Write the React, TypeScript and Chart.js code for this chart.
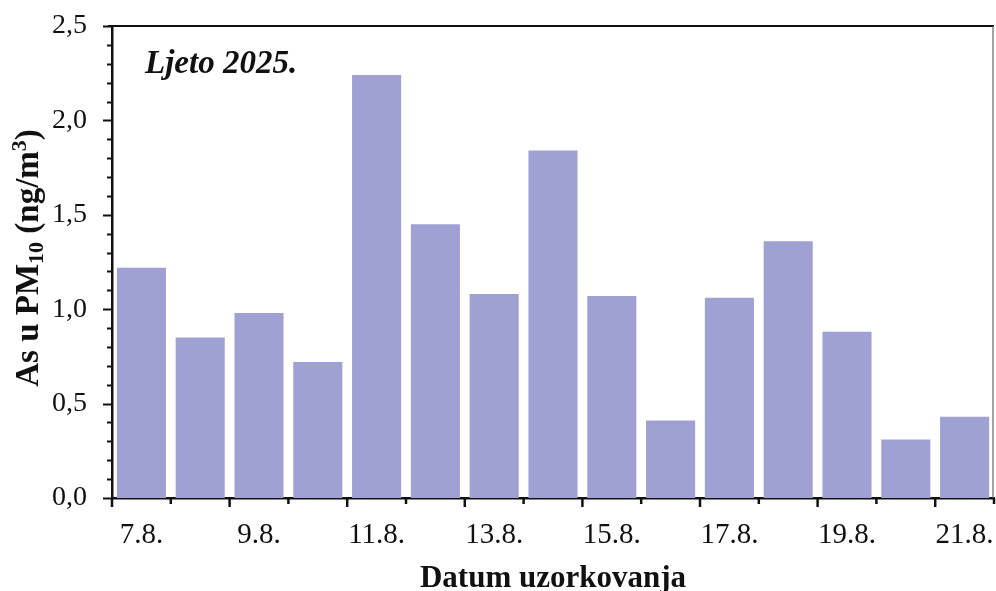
import React, { useEffect, useRef } from "react";
import { Chart, registerables } from "chart.js";

Chart.register(...registerables);

// ---- data ----
const categories = [
  "7.8.", "8.8.", "9.8.", "10.8.", "11.8.", "12.8.", "13.8.", "14.8.",
  "15.8.", "16.8.", "17.8.", "18.8.", "19.8.", "20.8.", "21.8.",
];
const asValues = [1.22, 0.85, 0.98, 0.72, 2.24, 1.45, 1.08, 1.84, 1.07, 0.41, 1.06, 1.36, 0.88, 0.31, 0.43];
const yMin = 0;
const yMax = 2.5;
const yStep = 0.5;
const yMinorStep = 0.1;
const seasonLabel = "Ljeto 2025.";
const xTitle = "Datum uzorkovanja";
const yTitleParts = [
  { text: "As u PM", kind: "normal" },
  { text: "10", kind: "sub" },
  { text: " (ng/m", kind: "normal" },
  { text: "3", kind: "sup" },
  { text: ")", kind: "normal" },
];

const FONT = "'Liberation Serif', 'Times New Roman', serif";

const decorPlugin = {
  id: "decor",
  afterDraw(chart: any) {
    const { ctx, chartArea, scales } = chart;
    const { left, right, top, bottom } = chartArea;
    const x = scales.x;
    const y = scales.y;
    ctx.save();
    ctx.strokeStyle = "#111";
    ctx.lineCap = "butt";

    // y ticks (major + minor), outward
    const nMinor = Math.round((yMax - yMin) / yMinorStep);
    for (let i = 0; i <= nMinor; i++) {
      const v = yMin + i * yMinorStep;
      const py = Math.round(y.getPixelForValue(v)) + 0.5;
      const major = i % Math.round(yStep / yMinorStep) === 0;
      ctx.lineWidth = 2;
      ctx.beginPath();
      ctx.moveTo(left - (major ? 9 : 5), py);
      ctx.lineTo(left, py);
      ctx.stroke();
    }

    // x ticks at category boundaries, alternating length
    const w = x.getPixelForValue(1) - x.getPixelForValue(0);
    for (let i = 0; i <= categories.length; i++) {
      const px = x.getPixelForValue(0) - w / 2 + i * w;
      const major = i % 2 === 0;
      ctx.lineWidth = 2.5;
      ctx.beginPath();
      ctx.moveTo(px, bottom);
      ctx.lineTo(px, bottom + (major ? 9 : 6));
      ctx.stroke();
    }

    // frame: top and right
    ctx.lineWidth = 2;
    ctx.strokeStyle = "#111";
    ctx.beginPath();
    ctx.moveTo(left - 4, top);
    ctx.lineTo(right, top);
    ctx.stroke();
    ctx.lineWidth = 1.2;
    ctx.strokeStyle = "#666";
    ctx.beginPath();
    ctx.moveTo(right - 1, top);
    ctx.lineTo(right - 1, bottom);
    ctx.stroke();

    // season label
    ctx.fillStyle = "#111";
    ctx.font = `italic bold 33px ${FONT}`;
    ctx.textBaseline = "alphabetic";
    ctx.textAlign = "left";
    ctx.fillText(seasonLabel, 145, 73);

    // y title with sub/superscripts
    const mainSize = 33;
    const smallSize = 22;
    const fontFor = (k: string) => `bold ${k === "normal" ? mainSize : smallSize}px ${FONT}`;
    let total = 0;
    const widths: number[] = [];
    for (const p of yTitleParts) {
      ctx.font = fontFor(p.kind);
      const m = ctx.measureText(p.text).width;
      widths.push(m);
      total += m;
    }
    const cy = (top + bottom) / 2 - 4;
    ctx.translate(38, cy);
    ctx.rotate(-Math.PI / 2);
    let u = -total / 2;
    yTitleParts.forEach((p, i) => {
      ctx.font = fontFor(p.kind);
      const dv = p.kind === "sub" ? 5 : p.kind === "sup" ? -12 : 0;
      ctx.fillText(p.text, u, dv);
      u += widths[i];
    });
    ctx.restore();
  },
};

export default function App() {
  const ref = useRef<HTMLCanvasElement | null>(null);

  useEffect(() => {
    document.body.style.margin = "0";
    const canvas = ref.current;
    if (!canvas) return;
    const chart = new Chart(canvas, {
      type: "bar",
      data: {
        labels: categories,
        datasets: [
          {
            data: asValues,
            backgroundColor: "#a0a1d3",
            borderWidth: 0,
            barPercentage: 0.835,
            categoryPercentage: 1.0,
          },
        ],
      },
      options: {
        responsive: false,
        animation: false,
        devicePixelRatio: 1,
        layout: { padding: { left: 0, right: 2, top: 26, bottom: 0 } },
        plugins: {
          legend: { display: false },
          tooltip: { enabled: false },
          title: { display: false },
        },
        scales: {
          x: {
            type: "category",
            offset: true,
            grid: { display: false },
            border: { display: true, color: "#111", width: 2.5 },
            ticks: {
              autoSkip: false,
              maxRotation: 0,
              minRotation: 0,
              padding: 12,
              color: "#111",
              font: { family: FONT, size: 29 },
              callback: (_v: any, i: number) => (i % 2 === 0 ? categories[i] : ""),
            },
            title: {
              display: true,
              text: xTitle,
              color: "#111",
              font: { family: FONT, size: 31, weight: "bold", lineHeight: 0.8 },
              padding: { top: 0, bottom: 0 },
            },
            afterFit: (s: any) => {
              s.height = 591 - 498;
              s.paddingLeft = 0;
              s.paddingRight = 0;
            },
          },
          y: {
            min: yMin,
            max: yMax,
            grid: { display: false },
            border: { display: true, color: "#111", width: 2.5 },
            ticks: {
              stepSize: yStep,
              padding: 17,
              color: "#111",
              font: { family: FONT, size: 28 },
              callback: (v: any) => Number(v).toFixed(1).replace(".", ","),
            },
            afterFit: (s: any) => {
              s.width = 112;
              s.paddingTop = 0;
              s.paddingBottom = 0;
            },
          },
        },
      },
      plugins: [decorPlugin],
    });
    return () => chart.destroy();
  }, []);

  return (
    <div style={{ width: 996, height: 591, background: "#fff" }}>
      <canvas ref={ref} width={996} height={591} style={{ display: "block" }} />
    </div>
  );
}
